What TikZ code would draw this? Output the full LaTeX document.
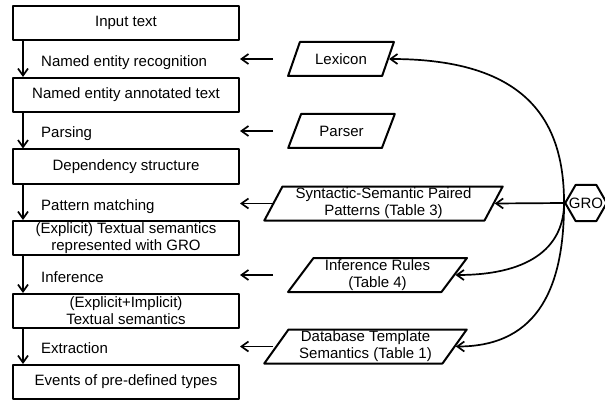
\documentclass[tikz,border=0pt]{standalone}
\usepackage{fontspec}
\setmainfont{Liberation Sans}
\usetikzlibrary{shapes.geometric,arrows.meta}
\begin{document}
\begin{tikzpicture}[x=1pt, y=-1pt, font=\fontsize{15}{17}\selectfont, line join=round, >={Straight Barb[length=7pt,width=10pt]},
	stage/.style={draw, line width=2pt, minimum width=226pt, minimum height=34pt, inner sep=0pt, align=center},
	source/.style={draw, line width=2pt, trapezium, trapezium stretches=true, trapezium left angle=56, trapezium right angle=124, minimum height=34pt, inner sep=0pt, align=center},
	conn/.style={->, line width=1.7pt}]
	\useasboundingbox (0,0) rectangle (605,401);
	% pipeline
	\node[stage] (b1) at (126,23) {Input text};
	\node[stage] (b2) at (126,95) {Named entity annotated text};
	\node[stage] (b3) at (126,166.5) {Dependency structure};
	\node[stage] (b4) at (126,238) {(Explicit) Textual semantics\\represented with GRO};
	\node[stage] (b5) at (126,311) {(Explicit+Implicit)\\Textual semantics};
	\node[stage] (b6) at (126,382) {Events of pre-defined types};
	\foreach \a/\b in {b1/b2,b2/b3,b3/b4,b4/b5,b5/b6} \draw[conn] ([xshift=11pt]\a.south west) -- ([xshift=11pt]\b.north west);
	\foreach \n/\y/\t in {ner/61/Named entity recognition, prs/132/Parsing, pm/205/Pattern matching, inf/277/Inference, ext/348/Extraction}
		\node[anchor=base west, inner sep=0pt] (\n) at (41,\y+5.4) {\t};
	% resources
	\node[source, minimum width=106pt] (lex) at (341,59) {Lexicon};
	\node[source, minimum width=107pt] (parser) at (341.5,131) {Parser};
	\node[source, minimum width=239pt, trapezium left angle=63, trapezium right angle=117] (pat) at (383.5,203.5) {Syntactic-Semantic Paired\\Patterns (Table 3)};
	\node[source, minimum width=179pt] (rules) at (377.5,275) {Inference Rules\\(Table 4)};
	\node[source, minimum width=203pt] (tmpl) at (365.5,346.5) {Database Template\\Semantics (Table 1)};
	\node[draw, line width=2pt, regular polygon, regular polygon sides=6, minimum size=41.6pt, inner sep=-5pt] (gro) at (586,203) {GRO};
	\coordinate (gap) at (273,0);
	\foreach \s in {lex,parser,pat,rules,tmpl} \draw[conn] (\s -| gap) -- (\s -| b1.east);
	\draw[conn] (gro.west) .. controls +(0,-80) and +(140,0) .. (lex.east);
	\draw[conn] (gro.west) -- (pat.east);
	\draw[conn] (gro.west) .. controls +(0,40) and +(80,0) .. (rules.east);
	\draw[conn] (gro.west) .. controls +(0,80) and +(85,0) .. (tmpl.east);
\end{tikzpicture}
\end{document}
